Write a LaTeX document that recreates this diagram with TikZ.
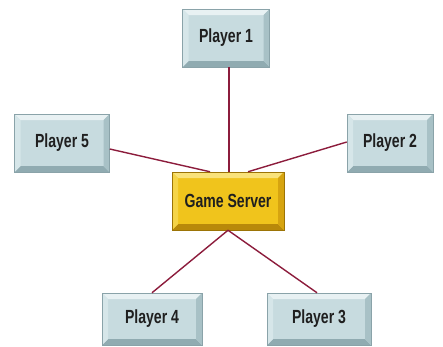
\documentclass[tikz,border=0pt]{standalone}
\usepackage{fontspec}
\newfontfamily\labfont[FakeStretch=0.74]{Liberation Sans}
\definecolor{pface}{HTML}{C7DBDF}
\definecolor{ptop}{HTML}{E8F1F3}
\definecolor{pleft}{HTML}{D6E6E9}
\definecolor{pright}{HTML}{A8C1C6}
\definecolor{pbot}{HTML}{90ABB1}
\definecolor{pborder}{HTML}{8AA3A9}
\definecolor{gface}{HTML}{F0C41C}
\definecolor{gtop}{HTML}{F9E27A}
\definecolor{gleft}{HTML}{F5D448}
\definecolor{gright}{HTML}{D6A410}
\definecolor{gbot}{HTML}{B8890A}
\definecolor{gborder}{HTML}{9C7406}
\definecolor{link}{HTML}{8C1C3C}
\tikzset{
  bevel/.style n args={4}{
    path picture={
      \fill[#1] (path picture bounding box.north west) -- (path picture bounding box.north east)
        -- ([shift={(-6pt,-6pt)}]path picture bounding box.north east) -- ([shift={(6pt,-6pt)}]path picture bounding box.north west) -- cycle;
      \fill[#2] (path picture bounding box.south west) -- (path picture bounding box.south east)
        -- ([shift={(-6pt,6pt)}]path picture bounding box.south east) -- ([shift={(6pt,6pt)}]path picture bounding box.south west) -- cycle;
      \fill[#3] (path picture bounding box.north west) -- (path picture bounding box.south west)
        -- ([shift={(6pt,6pt)}]path picture bounding box.south west) -- ([shift={(6pt,-6pt)}]path picture bounding box.north west) -- cycle;
      \fill[#4] (path picture bounding box.north east) -- (path picture bounding box.south east)
        -- ([shift={(-6pt,6pt)}]path picture bounding box.south east) -- ([shift={(-6pt,-6pt)}]path picture bounding box.north east) -- cycle;
    }
  },
  player/.style={rectangle, fill=pface, draw=pborder, line width=0.5pt,
    bevel={ptop}{pbot}{pleft}{pright}, minimum height=58pt, inner sep=0pt,
    font=\labfont\bfseries\fontsize{19}{21}\selectfont, text=black!88},
  server/.style={rectangle, fill=gface, draw=gborder, line width=0.5pt,
    bevel={gtop}{gbot}{gleft}{gright}, minimum width=112pt, minimum height=58pt, inner sep=0pt,
    font=\labfont\bfseries\fontsize{19}{21}\selectfont, text=black!88},
  linkline/.style={draw=link, line width=1.4pt}
}
\begin{document}
\begin{tikzpicture}[x=1pt,y=-1pt]
\useasboundingbox (0,0) rectangle (443,346);
\node[server] (gs) at (228,201) {Game Server};
\node[player, minimum width=87pt] (p1) at (226,38) {Player 1};
\node[player, minimum width=95pt] (p5) at (62,143) {Player 5};
\node[player, minimum width=86pt] (p2) at (390,143) {Player 2};
\node[player, minimum width=100pt, minimum height=52pt] (p4) at (152,319) {Player 4};
\node[player, minimum width=104pt, minimum height=52pt] (p3) at (319,319) {Player 3};
\draw[linkline] ([xshift=3pt]p1.south) -- ([xshift=3pt]p1.south |- gs.north);
\draw[linkline] ([yshift=-6pt]p5.east) -- ([xshift=-18pt]gs.north);
\draw[linkline] ([yshift=1pt]p2.west) -- ([xshift=20pt]gs.north);
\draw[linkline] (gs.south) -- (p4.north);
\draw[linkline] (gs.south) -- ([xshift=-2pt]p3.north);
\end{tikzpicture}
\end{document}
